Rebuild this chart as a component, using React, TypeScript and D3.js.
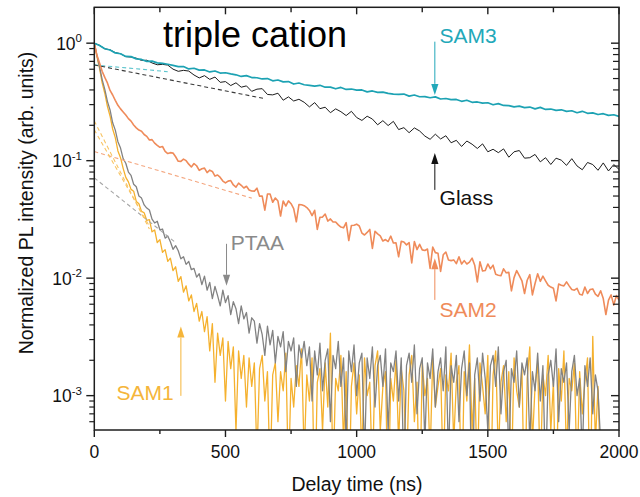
import React from 'react';
import * as d3 from 'd3';

const WIDTH = 640;
const HEIGHT = 497;
const PLOT_LEFT = 94.3;
const PLOT_RIGHT = 619;
const PLOT_TOP = 7.3;
const PLOT_BOTTOM = 430;

const X_DOMAIN = [0, 2000];
const Y_DOMAIN = [5.1e-4, 2.02];
const X_MAJOR_TICKS = [0, 500, 1000, 1500, 2000];
const X_MINOR_TICKS = [250, 750, 1250, 1750];
const Y_MAJOR_TICKS = [1e-3, 1e-2, 1e-1, 1];
const Y_TICK_EXPONENTS = ['-3', '-2', '-1', '0'];

// Normalized PL traces, uniform time base (ns) per series
const SAM3_STEP = 20;
const SAM3 = [1.0, 0.957, 0.896, 0.874, 0.826, 0.813, 0.771, 0.768, 0.735, 0.727,
  0.699, 0.704, 0.68, 0.672, 0.662, 0.647, 0.631, 0.633, 0.604, 0.612,
  0.59, 0.592, 0.569, 0.58, 0.557, 0.56, 0.548, 0.538, 0.521, 0.529,
  0.51, 0.508, 0.496, 0.5, 0.478, 0.486, 0.468, 0.471, 0.449, 0.458,
  0.443, 0.437, 0.431, 0.438, 0.422, 0.423, 0.409, 0.42, 0.404, 0.407,
  0.398, 0.4, 0.385, 0.392, 0.381, 0.383, 0.374, 0.369, 0.366, 0.369,
  0.354, 0.362, 0.35, 0.351, 0.343, 0.349, 0.335, 0.338, 0.331, 0.332,
  0.32, 0.327, 0.314, 0.316, 0.309, 0.311, 0.299, 0.306, 0.295, 0.294,
  0.287, 0.291, 0.283, 0.286, 0.276, 0.284, 0.273, 0.275, 0.268, 0.271,
  0.263, 0.266, 0.256, 0.263, 0.253, 0.255, 0.247, 0.251, 0.243, 0.246, 0.238];

const GLASS_STEP = 20;
const GLASS = [1.0, 0.96, 0.896, 0.878, 0.831, 0.813, 0.768, 0.762, 0.745, 0.713,
  0.716, 0.679, 0.655, 0.66, 0.651, 0.601, 0.576, 0.587, 0.579, 0.536,
  0.506, 0.529, 0.492, 0.515, 0.464, 0.471, 0.436, 0.46, 0.422, 0.433,
  0.389, 0.406, 0.41, 0.366, 0.363, 0.375, 0.327, 0.349, 0.322, 0.333,
  0.314, 0.287, 0.312, 0.277, 0.285, 0.256, 0.276, 0.261, 0.242, 0.263,
  0.233, 0.22, 0.239, 0.226, 0.202, 0.219, 0.199, 0.216, 0.184, 0.191,
  0.173, 0.19, 0.179, 0.162, 0.152, 0.168, 0.153, 0.163, 0.142, 0.149,
  0.132, 0.147, 0.138, 0.127, 0.139, 0.119, 0.125, 0.117, 0.126, 0.107,
  0.119, 0.122, 0.105, 0.106, 0.113, 0.0977, 0.106, 0.0928, 0.105, 0.101,
  0.0912, 0.104, 0.0902, 0.0837, 0.0965, 0.0927, 0.0828, 0.0957, 0.0817, 0.0927, 0.0843];

const SAM2_STEP = 10;
const SAM2 = [1.0, 0.788, 0.678, 0.576, 0.511, 0.459, 0.396, 0.362, 0.326, 0.296, 0.276,
  0.26, 0.245, 0.228, 0.217, 0.201, 0.19, 0.182, 0.178, 0.167, 0.161,
  0.15, 0.151, 0.141, 0.135, 0.13, 0.132, 0.12, 0.115, 0.117, 0.116,
  0.108, 0.0988, 0.0987, 0.103, 0.1, 0.0934, 0.0884, 0.0945, 0.0905, 0.0826,
  0.0854, 0.0864, 0.0792, 0.083, 0.081, 0.0739, 0.0755, 0.072, 0.0671, 0.0646,
  0.067, 0.0677, 0.0621, 0.0595, 0.0644, 0.0617, 0.0585, 0.0606, 0.0563, 0.0552,
  0.055, 0.0583, 0.0499, 0.05, 0.0379, 0.052, 0.052, 0.0443, 0.0481, 0.0453,
  0.0338, 0.0454, 0.0411, 0.0455, 0.043, 0.039, 0.0302, 0.0423, 0.0422, 0.0414,
  0.0399, 0.0377, 0.0341, 0.0378, 0.026, 0.033, 0.0331, 0.0351, 0.0306, 0.0319,
  0.0301, 0.0301, 0.0284, 0.0272, 0.0268, 0.0297, 0.0209, 0.0281, 0.0282, 0.0288,
  0.0278, 0.0242, 0.0233, 0.0245, 0.026, 0.0179, 0.0251, 0.0238, 0.0229, 0.0207,
  0.0213, 0.0205, 0.0228, 0.0199, 0.02, 0.0152, 0.0206, 0.0203, 0.0192, 0.0201,
  0.0135, 0.0205, 0.0175, 0.0194, 0.0174, 0.0172, 0.0177, 0.0121, 0.0184, 0.0165,
  0.0163, 0.0114, 0.0158, 0.0167, 0.0143, 0.0141, 0.0143, 0.0133, 0.0152, 0.0132,
  0.0141, 0.0132, 0.0137, 0.0148, 0.0129, 0.0093, 0.0138, 0.0115, 0.0116, 0.0132,
  0.012, 0.0129, 0.0108, 0.0106, 0.0105, 0.012, 0.0111, 0.0112, 0.0078, 0.0101,
  0.0116, 0.0105, 0.0095, 0.0074, 0.0096, 0.0107, 0.0072, 0.009, 0.0109, 0.0094,
  0.0104, 0.0095, 0.0087, 0.0084, 0.0082, 0.0064, 0.0089, 0.0087, 0.0086, 0.0093,
  0.0086, 0.008, 0.0079, 0.0082, 0.0073, 0.0072, 0.0084, 0.0074, 0.008, 0.0081,
  0.0073, 0.007, 0.0078, 0.0067, 0.0049, 0.0065, 0.0072, 0.0059, 0.0071, 0.0065];

const PTAA_STEP = 10;
const PTAA = [1.0, 0.79, 0.63, 0.49, 0.405, 0.32, 0.27, 0.21, 0.182, 0.145, 0.128,
  0.104, 0.095, 0.08, 0.075, 0.063, 0.06, 0.05, 0.048, 0.042, 0.0395,
  0.038, 0.0318, 0.0295, 0.0305, 0.0258, 0.0262, 0.0219, 0.0228, 0.0204, 0.0176,
  0.0189, 0.0171, 0.0146, 0.0152, 0.0131, 0.0139, 0.0118, 0.0121, 0.0102, 0.0109,
  0.0088, 0.0104, 0.0079, 0.0092, 0.0067, 0.0085, 0.0071, 0.0058, 0.0079, 0.0062,
  0.0071, 0.0049, 0.0063, 0.0055, 0.0041, 0.0058, 0.0045, 0.0051, 0.0034, 0.0046,
  0.0043, 0.0028, 0.0041, 0.0033, 0.0022, 0.0039, 0.0027, 0.0036, 0.0019, 0.0032,
  0.0026, 0.0035, 0.0016, 0.0029, 0.0024, 0.0031, 0.0012, 0.0027, 0.0021, 0.0029,
  0.0018, 0.0026, 0.0009, 0.0024, 0.0015, 0.0028, 0.0011, 0.002, 0.0025, 0.0006,
  0.0022, 0.0017, 0.0029, 0.0012, 0.0021, 0.0004, 0.0024, 0.0016, 0.0027, 0.001,
  0.0019, 0.0023, 0.0003, 0.0021, 0.0014, 0.0026, 0.0008, 0.0018, 0.0022, 0.0012,
  0.0025, 0.0005, 0.0019, 0.0016, 0.0024, 0.0009, 0.0021, 0.0002, 0.0018, 0.0023,
  0.0013, 0.0027, 0.0007, 0.0017, 0.0021, 0.0004, 0.0019, 0.0014, 0.0025, 0.0008,
  0.0016, 0.0021, 0.0011, 0.0026, 0.0003, 0.0018, 0.0013, 0.0022, 0.0006, 0.0017,
  0.0024, 0.001, 0.0019, 0.0001, 0.0015, 0.0021, 0.0009, 0.0023, 0.0014, 0.0005,
  0.0018, 0.0022, 0.0012, 0.0026, 0.0007, 0.0016, 0.002, 0.0003, 0.0017, 0.0013,
  0.0024, 0.0008, 0.0019, 0.0015, 0.0021, 0.0004, 0.0016, 0.0011, 0.0023, 0.0009,
  0.0018, 0.0002, 0.0015, 0.002, 0.0012, 0.0025, 0.0006, 0.0017, 0.0013, 0.0019,
  0.0005, 0.0016, 0.0022, 0.001, 0.0014, 0.0003, 0.0018, 0.0012, 0.0021, 0.0007,
  0.0015, 0.0011, 0.0004];

const SAM1_STEP = 10;
const SAM1 = [1.0, 0.77, 0.61, 0.46, 0.375, 0.29, 0.24, 0.186, 0.157, 0.121, 0.106,
  0.086, 0.072, 0.066, 0.057, 0.055, 0.045, 0.043, 0.037, 0.036, 0.031,
  0.0315, 0.0248, 0.0257, 0.0201, 0.0213, 0.0166, 0.0175, 0.0139, 0.0148, 0.0116,
  0.0125, 0.0094, 0.0103, 0.0076, 0.0086, 0.0064, 0.0072, 0.0052, 0.0061, 0.0043,
  0.0052, 0.0035, 0.0047, 0.0024, 0.0041, 0.0013, 0.0034, 0.0022, 0.0031, 0.0009,
  0.0029, 0.0017, 0.0026, 0.0005, 0.0024, 0.0014, 0.0022, 0.0008, 0.0021, 0.0012,
  0.0019, 0.0003, 0.0017, 0.0022, 0.0009, 0.0016, 0.0002, 0.0015, 0.0019, 0.0006,
  0.0016, 0.0011, 0.0023, 0.0002, 0.0014, 0.0008, 0.0018, 0.0012, 0.0025, 0.0003,
  0.0015, 0.0009, 0.0021, 0.0001, 0.0013, 0.0017, 0.0005, 0.0019, 0.0008, 0.0034,
  0.0002, 0.0014, 0.0011, 0.0022, 0.0004, 0.0016, 0.0001, 0.0012, 0.0019, 0.0007,
  0.0015, 0.0003, 0.0021, 0.001, 0.0013, 0.0002, 0.0018, 0.0024, 0.0005, 0.0012,
  0.0016, 0.0001, 0.0014, 0.0009, 0.002, 0.0004, 0.0017, 0.0011, 0.0002, 0.0015,
  0.0022, 0.0006, 0.0013, 0.0001, 0.0019, 0.001, 0.0014, 0.0003, 0.0021, 0.0008,
  0.0012, 0.0017, 0.0002, 0.0015, 0.0011, 0.0023, 0.0004, 0.0013, 0.0018, 0.0001,
  0.0016, 0.0009, 0.0027, 0.0005, 0.0014, 0.0002, 0.0019, 0.0012, 0.0007, 0.0022,
  0.0001, 0.0015, 0.0024, 0.0003, 0.0013, 0.0018, 0.0006, 0.0016, 0.0002, 0.0021,
  0.0011, 0.0008, 0.0017, 0.0001, 0.0014, 0.0026, 0.0004, 0.0012, 0.0019, 0.0002,
  0.0015, 0.001, 0.0022, 0.0005, 0.0013, 0.0001, 0.0017, 0.0009, 0.0024, 0.0003,
  0.0014, 0.0011, 0.0019, 0.0002, 0.0016, 0.0007, 0.0013, 0.0021, 0.0001, 0.0032,
  0.0004, 0.0012, 0.0002];

// drawing order: back to front
const SERIES_NAMES = ['SAM1', 'PTAA', 'SAM2', 'Glass', 'SAM3'];
const SERIES_VALUES = [SAM1, PTAA, SAM2, GLASS, SAM3];
const SERIES_STEPS = [SAM1_STEP, PTAA_STEP, SAM2_STEP, GLASS_STEP, SAM3_STEP];
const SERIES_COLORS = ['#f5b12e', '#828282', '#ef8b5a', '#1c1c1c', '#1ca2b3'];
const SERIES_WIDTHS = [1.3, 1.3, 1.6, 1.0, 1.7];

// mono-exponential tail fits: [t0, v0, t1, v1]
const FIT_LINES = [
  [0, 0.653, 280, 0.572],
  [0, 0.653, 650, 0.337],
  [0, 0.1196, 600, 0.048],
  [0, 0.0714, 310, 0.0201],
  [0, 0.218, 210, 0.0262],
  [0, 0.183, 210, 0.0277],
];
const FIT_COLORS = ['#5cc4cd', '#3a3a3a', '#f4a67f', '#a6a6a6', '#f8c463', '#f8c463'];

// annotations: label, label position (t, v), arrow (t, from v, tip v)
const ANNOT_LABELS = ['SAM3', 'Glass', 'SAM2', 'PTAA', 'SAM1'];
const ANNOT_LABEL_T = [1316, 1316, 1316, 520, 85];
const ANNOT_LABEL_V = [1.012, 0.0421, 0.00471, 0.0174, 0.00092];
const ANNOT_ARROW_T = [1298, 1298, 1298, 504, 330];
const ANNOT_ARROW_FROM = [1.03, 0.0564, 0.00653, 0.0196, 0.000996];
const ANNOT_ARROW_TIP = [0.363, 0.116, 0.0148, 0.0086, 0.00387];
const ANNOT_COLORS = ['#22a8b9', '#111111', '#ef8b5a', '#8a8a8a', '#f5b53a'];

const TITLE = 'triple cation';
const TITLE_T = 262;
const TITLE_V = 0.93;
const X_LABEL = 'Delay time (ns)';
const Y_LABEL = 'Normalized PL intensity (arb. units)';

const FONT = '"Liberation Sans", Arial, Helvetica, sans-serif';

export default function App() {
  const x = d3.scaleLinear().domain(X_DOMAIN).range([PLOT_LEFT, PLOT_RIGHT]);
  const y = d3.scaleLog().domain(Y_DOMAIN).range([PLOT_BOTTOM, PLOT_TOP]);
  const floorV = 1e-4;

  const yMinor = y.ticks().filter(v => v < 1.5 && !Y_MAJOR_TICKS.some(m => Math.abs(m - v) / m < 1e-6));

  const axisColor = '#1e1e1e';

  return (
    <svg width={WIDTH} height={HEIGHT} style={{ position: 'absolute', left: 0, top: 0, background: '#fff' }}
      fontFamily={FONT}>
      <defs>
        <clipPath id="plotclip">
          <rect x={PLOT_LEFT} y={PLOT_TOP} width={PLOT_RIGHT - PLOT_LEFT} height={PLOT_BOTTOM - PLOT_TOP} />
        </clipPath>
      </defs>
      <rect x={0} y={0} width={WIDTH} height={HEIGHT} fill="#fff" />

      <g clipPath="url(#plotclip)">
        {SERIES_VALUES.map((vals, si) => {
          const step = SERIES_STEPS[si];
          const gen = d3.line<number>()
            .x((d, i) => x(i * step))
            .y(d => y(Math.max(d, floorV)));
          return (
            <path key={SERIES_NAMES[si]} d={gen(vals) || ''} fill="none"
              stroke={SERIES_COLORS[si]} strokeWidth={SERIES_WIDTHS[si]} strokeLinejoin="round" />
          );
        })}
        {FIT_LINES.map((f, i) => (
          <line key={'fit' + i} x1={x(f[0])} y1={y(f[1])} x2={x(f[2])} y2={y(f[3])}
            stroke={FIT_COLORS[i]} strokeWidth={1.1} strokeDasharray="4,3" />
        ))}
      </g>

      {/* axes frame */}
      <rect x={PLOT_LEFT} y={PLOT_TOP} width={PLOT_RIGHT - PLOT_LEFT} height={PLOT_BOTTOM - PLOT_TOP}
        fill="none" stroke={axisColor} strokeWidth={1.5} />

      {/* x ticks */}
      {X_MAJOR_TICKS.map(t => (
        <g key={'xt' + t}>
          <line x1={x(t)} x2={x(t)} y1={PLOT_BOTTOM} y2={PLOT_BOTTOM + 7} stroke={axisColor} strokeWidth={1.4} />
          <line x1={x(t)} x2={x(t)} y1={PLOT_TOP} y2={PLOT_TOP + 7} stroke={axisColor} strokeWidth={1.4} />
          <text x={x(t)} y={458} textAnchor="middle" fontSize={17.5} fill="#111">{t}</text>
        </g>
      ))}
      {X_MINOR_TICKS.map(t => (
        <g key={'xm' + t}>
          <line x1={x(t)} x2={x(t)} y1={PLOT_BOTTOM} y2={PLOT_BOTTOM + 4} stroke={axisColor} strokeWidth={1.4} />
          <line x1={x(t)} x2={x(t)} y1={PLOT_TOP} y2={PLOT_TOP + 5} stroke={axisColor} strokeWidth={1.4} />
        </g>
      ))}

      {/* y ticks */}
      {Y_MAJOR_TICKS.map((v, i) => (
        <g key={'yt' + i}>
          <line x1={PLOT_LEFT - 8} x2={PLOT_LEFT} y1={y(v)} y2={y(v)} stroke={axisColor} strokeWidth={1.4} />
          <line x1={PLOT_RIGHT - 8} x2={PLOT_RIGHT} y1={y(v)} y2={y(v)} stroke={axisColor} strokeWidth={1.4} />
          <text x={82} y={y(v) + 6.4} textAnchor="end" fontSize={17.5} fill="#111">
            10<tspan dy={-7.5} fontSize={11.5}>{Y_TICK_EXPONENTS[i]}</tspan>
          </text>
        </g>
      ))}
      {yMinor.map((v, i) => (
        <g key={'ym' + i}>
          <line x1={PLOT_LEFT - 5} x2={PLOT_LEFT} y1={y(v)} y2={y(v)} stroke={axisColor} strokeWidth={1.2} />
          <line x1={PLOT_RIGHT - 6} x2={PLOT_RIGHT} y1={y(v)} y2={y(v)} stroke={axisColor} strokeWidth={1.2} />
        </g>
      ))}

      {/* axis titles */}
      <text x={357} y={491} textAnchor="middle" fontSize={19.5} fill="#111">{X_LABEL}</text>
      <text transform="rotate(-90)" x={-203} y={33} textAnchor="middle" fontSize={19.5} fill="#111">{Y_LABEL}</text>

      {/* title */}
      <text x={x(TITLE_T)} y={y(TITLE_V)} fontSize={36} fill="#000">{TITLE}</text>

      {/* annotations */}
      {ANNOT_LABELS.map((lab, i) => {
        const ax = x(ANNOT_ARROW_T[i]);
        const yFrom = y(ANNOT_ARROW_FROM[i]);
        const yTip = y(ANNOT_ARROW_TIP[i]);
        const dir = yTip > yFrom ? 1 : -1;
        const headLen = 11;
        const headW = 3.6;
        const c = ANNOT_COLORS[i];
        return (
          <g key={'an' + lab}>
            <line x1={ax} x2={ax} y1={yFrom} y2={yTip - dir * headLen} stroke={c} strokeWidth={1} />
            <polygon points={`${ax - headW},${yTip - dir * headLen} ${ax + headW},${yTip - dir * headLen} ${ax},${yTip}`} fill={c} />
            <text x={x(ANNOT_LABEL_T[i])} y={y(ANNOT_LABEL_V[i])} fontSize={21} fill={c}>{lab}</text>
          </g>
        );
      })}
    </svg>
  );
}
